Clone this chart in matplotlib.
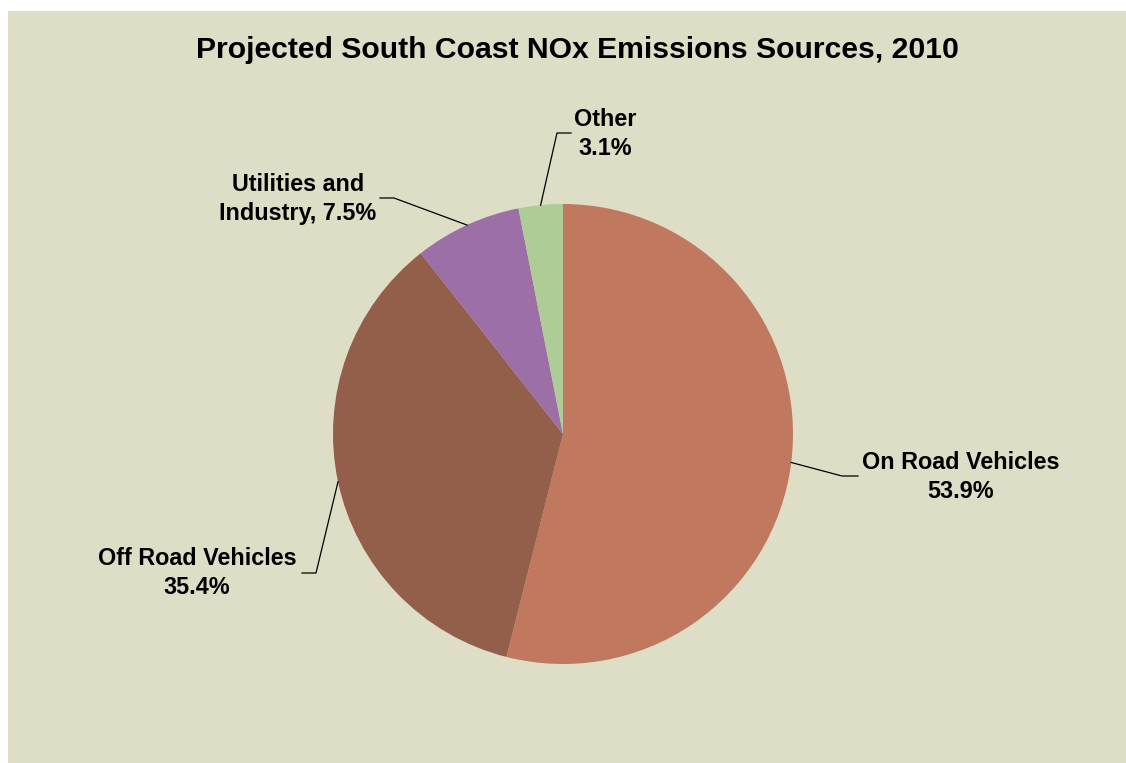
import numpy as np
import matplotlib
matplotlib.use("Agg")
import matplotlib.pyplot as plt
from matplotlib.patches import Rectangle

plt.rcParams['font.family'] = ['Liberation Sans', 'DejaVu Sans']

categories = ["On Road Vehicles", "Off Road Vehicles", "Utilities and Industry", "Other"]
values = [53.9, 35.4, 7.5, 3.1]
label_texts = ["On Road Vehicles\n53.9%", "Off Road Vehicles\n35.4%",
               "Utilities and\nIndustry, 7.5%", "Other\n3.1%"]
colors = ["#C0785F", "#935E4A", "#9C6FA6", "#ADCC96"]

W, H = 1126, 763
fig = plt.figure(figsize=(W / 100, H / 100), dpi=100)
fig.patch.set_facecolor("white")
ax = fig.add_axes([0, 0, 1, 1])
ax.set_xlim(0, W)
ax.set_ylim(0, H)
ax.set_aspect("equal")
ax.axis("off")

bg = "#DEDDC5"
ax.add_patch(Rectangle((8, 0), W - 8, H - 11, facecolor=bg, edgecolor="none", zorder=0))

cx, cy, r = 563, H - 434, 230
wedges, _ = ax.pie(values, colors=colors, startangle=90, counterclock=False,
                   center=(cx, cy), radius=r, frame=True,
                   wedgeprops=dict(linewidth=0))
ax.set_xlim(0, W)
ax.set_ylim(0, H)
ax.axis("off")

ax.text(577, H - 50, "Projected South Coast NOx Emissions Sources, 2010",
        ha="center", va="center", fontsize=21.7, fontweight="bold", color="black")

# label positions (text center, elbow, end of horizontal) in pixel coords
label_pos = [(961, 477), (197, 573), (298, 199), (605, 134)]
elbows = [(842, 476), (316, 573), (394, 198), (557, 133)]
ends = [(858, 476), (302, 573), (380, 198), (571, 133)]

for w, txt, lp, el, en in zip(wedges, label_texts, label_pos, elbows, ends):
    ang = np.deg2rad((w.theta1 + w.theta2) / 2)
    px, py = cx + r * np.cos(ang), cy + r * np.sin(ang)
    ax.plot([px, el[0], en[0]], [py, H - el[1], H - en[1]], color="black", lw=0.9, zorder=5)
    ax.text(lp[0], H - lp[1], txt, ha="center", va="center", fontsize=16.8,
            fontweight="bold", color="black", linespacing=1.38)

fig.savefig("out.png", dpi=100, facecolor=fig.get_facecolor())
